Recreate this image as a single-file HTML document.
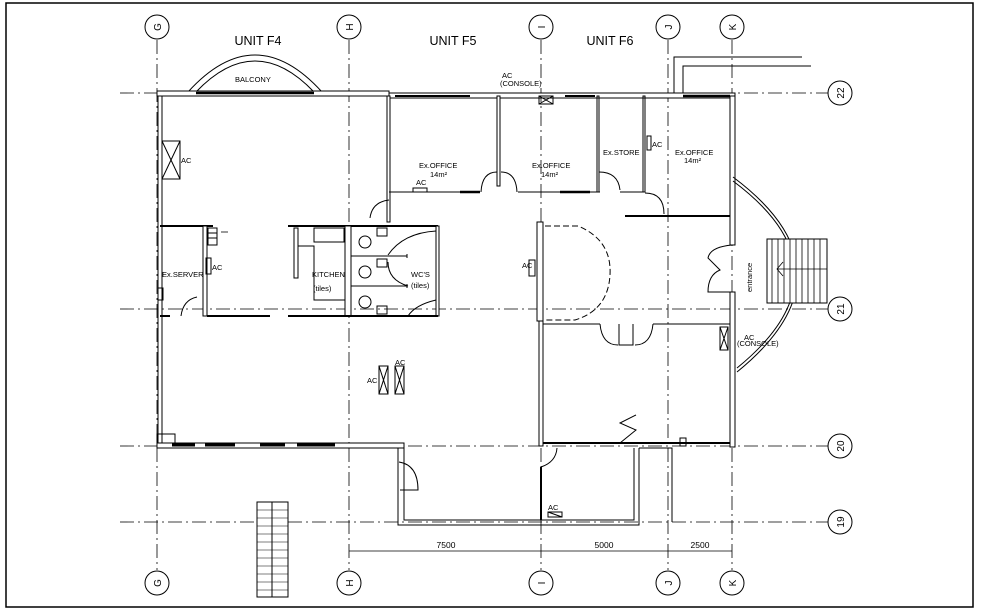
<!DOCTYPE html>
<html><head><meta charset="utf-8"><style>
html,body{margin:0;padding:0;background:#fff;}
svg{display:block;}
text{font-family:"Liberation Sans",sans-serif;fill:#000;}
</style></head><body>
<svg width="986" height="611" viewBox="0 0 986 611" xmlns="http://www.w3.org/2000/svg">
<rect x="0" y="0" width="986" height="611" fill="#fff"/>
<rect x="6" y="3" width="967" height="604" fill="none" stroke="#000" stroke-width="1.5"/>

<!-- grid lines -->
<g stroke="#000" stroke-width="0.8" stroke-dasharray="14,4,2,4" fill="none">
<line x1="157" y1="40" x2="157" y2="570"/>
<line x1="349" y1="40" x2="349" y2="570"/>
<line x1="541" y1="40" x2="541" y2="570"/>
<line x1="668" y1="40" x2="668" y2="570"/>
<line x1="732" y1="40" x2="732" y2="570"/>
<line x1="120" y1="93" x2="828" y2="93"/>
<line x1="120" y1="309" x2="828" y2="309"/>
<line x1="120" y1="446" x2="828" y2="446"/>
<line x1="120" y1="522" x2="828" y2="522"/>
</g>
<!-- bubbles -->
<g stroke="#000" stroke-width="1" fill="#fff">
<circle cx="157" cy="27" r="12"/><circle cx="349" cy="27" r="12"/><circle cx="541" cy="27" r="12"/><circle cx="668" cy="27" r="12"/><circle cx="732" cy="27" r="12"/>
<circle cx="157" cy="583" r="12"/><circle cx="349" cy="583" r="12"/><circle cx="541" cy="583" r="12"/><circle cx="668" cy="583" r="12"/><circle cx="732" cy="583" r="12"/>
<circle cx="840" cy="93" r="12"/><circle cx="840" cy="309" r="12"/><circle cx="840" cy="446" r="12"/><circle cx="840" cy="522" r="12"/>
</g>
<g font-size="10" text-anchor="middle">
<text transform="translate(157,27) rotate(-90)" y="4">G</text><text transform="translate(349,27) rotate(-90)" y="4">H</text><text transform="translate(541,27) rotate(-90)" y="4">I</text><text transform="translate(668,27) rotate(-90)" y="4">J</text><text transform="translate(732,27) rotate(-90)" y="4">K</text>
<text transform="translate(157,583) rotate(-90)" y="4">G</text><text transform="translate(349,583) rotate(-90)" y="4">H</text><text transform="translate(541,583) rotate(-90)" y="4">I</text><text transform="translate(668,583) rotate(-90)" y="4">J</text><text transform="translate(732,583) rotate(-90)" y="4">K</text>
<text transform="translate(840,93) rotate(-90)" y="4">22</text><text transform="translate(840,309) rotate(-90)" y="4">21</text><text transform="translate(840,446) rotate(-90)" y="4">20</text><text transform="translate(840,522) rotate(-90)" y="4">19</text>
</g>

<g font-size="12.5" text-anchor="middle">
<text x="258" y="45">UNIT  F4</text>
<text x="453" y="45">UNIT  F5</text>
<text x="610" y="45">UNIT  F6</text>
</g>

<g fill="none" stroke="#000" stroke-width="1">
<!-- top right lines -->
<polyline points="802,57 674,57 674,93"/>
<polyline points="811,66 683,66 683,93"/>
<!-- balcony -->
<path d="M188,92 Q255,18 322,92"/>
<path d="M196,92 Q255,30 314,92"/>
<!-- north wall -->
<rect x="157" y="91" width="232" height="5" fill="#fff"/>
<rect x="389" y="93" width="346" height="5" fill="#fff"/>
<line x1="196" y1="93" x2="314" y2="93" stroke-width="2.5"/>
<line x1="395" y1="96" x2="470" y2="96" stroke-width="2"/>
<line x1="565" y1="96" x2="595" y2="96" stroke-width="2"/>
<line x1="683" y1="96" x2="730" y2="96" stroke-width="2.5"/>
<!-- west wall -->
<rect x="158" y="96" width="4" height="350" fill="#fff"/>
<!-- bottom wall F4 -->
<rect x="157" y="443" width="247" height="5" fill="#fff"/>
<line x1="172" y1="445" x2="195" y2="445" stroke-width="3"/>
<line x1="205" y1="445" x2="235" y2="445" stroke-width="3"/>
<line x1="260" y1="445" x2="285" y2="445" stroke-width="3"/>
<line x1="297" y1="445" x2="335" y2="445" stroke-width="3"/>
<rect x="157" y="434" width="18" height="9"/>
<!-- south box -->
<polyline points="404,448 404,520 634,520 634,448"/>
<polyline points="398,448 398,525 639,525 639,448"/>
<path d="M399,462 Q418,465 418,490 L400,490"/>
<polyline points="639,448 672,448 672,522"/>
<line x1="541" y1="467" x2="541" y2="520" stroke-width="2"/>
<path d="M541,467 Q556,462 557,448"/>
<rect x="548" y="512" width="14" height="5"/>
<line x1="548" y1="512" x2="562" y2="517"/>
<!-- F5/F6 offices -->
<rect x="387" y="96" width="3" height="126" fill="#fff"/>
<polyline points="389,192 480,192"/>
<polyline points="518,192 600,192"/>
<line x1="460" y1="192" x2="480" y2="192" stroke-width="2.5"/>
<line x1="560" y1="192" x2="590" y2="192" stroke-width="2.5"/>
<path d="M481,192 Q482,172 497,172"/><path d="M517,192 Q516,172 501,172"/>
<rect x="497" y="96" width="3" height="90" fill="#fff"/>
<rect x="597" y="96" width="2" height="96"/>
<rect x="643" y="96" width="2" height="96"/>
<polyline points="620,192 643,192"/>
<path d="M599,172 Q618,172 620,190"/>
<path d="M645,193 Q664,193 664,214"/>
<line x1="625" y1="216" x2="732" y2="216" stroke-width="2"/>
<path d="M389,200 Q372,202 370,218"/>
<rect x="647" y="136" width="4" height="14"/>
<rect x="413" y="188" width="14" height="4"/>
<rect x="539" y="96" width="14" height="8"/>
<line x1="539" y1="96" x2="553" y2="104"/><line x1="553" y1="96" x2="539" y2="104"/>
<!-- east wall -->
<rect x="730" y="96" width="5" height="149" fill="#fff"/>
<rect x="730" y="292" width="5" height="155" fill="#fff"/>
<path d="M732,245 Q710,247 708,258 L720,270 Q708,275 708,292 L732,292" />
<!-- entrance arc -->
<path d="M733,177 Q860,272 737,372"/>
<path d="M733,181 Q855,272 737,368"/>
<!-- stairs -->
<rect x="767" y="239" width="60" height="64" fill="#fff"/>
<g stroke-width="0.8"><line x1="772" y1="239" x2="772" y2="303"/><line x1="778" y1="239" x2="778" y2="303"/><line x1="784" y1="239" x2="784" y2="303"/><line x1="790" y1="239" x2="790" y2="303"/><line x1="796" y1="239" x2="796" y2="303"/><line x1="802" y1="239" x2="802" y2="303"/><line x1="808" y1="239" x2="808" y2="303"/><line x1="814" y1="239" x2="814" y2="303"/><line x1="820" y1="239" x2="820" y2="303"/>
<line x1="777" y1="269" x2="827" y2="269"/><polyline points="783,262 777,269 783,276"/></g>
<!-- I column block -->
<rect x="537" y="222" width="6" height="99" fill="#fff"/>
<path d="M545,226 L578,226 Q612,240 610,275 Q608,310 575,320 L545,320" stroke-dasharray="6,3"/>
<rect x="529" y="260" width="6" height="16"/>
<!-- right lower block -->
<rect x="539" y="321" width="4" height="125" fill="#fff"/>
<line x1="543" y1="324" x2="600" y2="324"/>
<line x1="653" y1="324" x2="730" y2="324"/>
<path d="M600,324 Q602,345 618,345"/><path d="M653,324 Q651,345 635,345"/>
<polyline points="619,324 619,345 633,345 633,324"/>
<polyline points="620,443 636,430 620,423 636,415"/>
<line x1="543" y1="443" x2="730" y2="443" stroke-width="2"/>
<rect x="680" y="438" width="6" height="8"/>
<rect x="720" y="327" width="8" height="23"/>
<line x1="720" y1="327" x2="728" y2="350"/><line x1="728" y1="327" x2="720" y2="350"/>
<!-- kitchen / WC block -->
<line x1="288" y1="226" x2="438" y2="226" stroke-width="2"/>
<rect x="345" y="226" width="6" height="90" fill="#fff"/>
<rect x="436" y="226" width="3" height="90" fill="#fff"/>
<line x1="288" y1="316" x2="438" y2="316" stroke-width="2"/>
<rect x="294" y="228" width="4" height="50"/>
<polyline points="298,246 314,246 314,300 345,300"/>
<rect x="314" y="228" width="30" height="14"/>
<line x1="351" y1="256" x2="407" y2="256"/><line x1="351" y1="286" x2="407" y2="286"/>
<line x1="407" y1="254" x2="407" y2="258"/><line x1="407" y1="284" x2="407" y2="288"/>
<ellipse cx="365" cy="242" rx="6" ry="6"/><ellipse cx="365" cy="272" rx="6" ry="6"/><ellipse cx="365" cy="302" rx="6" ry="6"/>
<rect x="377" y="228" width="10" height="8"/><rect x="377" y="259" width="10" height="8"/><rect x="377" y="306" width="10" height="8"/>
<path d="M436,231 Q403,233 388,255"/><path d="M388,262 Q388,280 408,286"/><path d="M436,300 Q415,305 408,316"/>
<!-- server room -->
<line x1="160" y1="226" x2="213" y2="226" stroke-width="2"/>
<rect x="203" y="226" width="4" height="90" fill="#fff"/>
<rect x="208" y="228" width="9" height="17"/>
<line x1="208" y1="233" x2="217" y2="233"/><line x1="208" y1="238" x2="217" y2="238"/>
<line x1="207" y1="316" x2="270" y2="316" stroke-width="2"/>
<line x1="160" y1="316" x2="170" y2="316" stroke-width="2"/>
<path d="M181,316 Q183,300 197,297"/>
<rect x="158" y="288" width="5" height="12"/>
<rect x="206" y="258" width="5" height="16"/>
<line x1="221" y1="232" x2="228" y2="232" stroke-width="0.8"/>
<!-- AC units -->
<rect x="162" y="141" width="18" height="38"/>
<line x1="162" y1="141" x2="180" y2="179"/><line x1="180" y1="141" x2="162" y2="179"/>
<rect x="379" y="366" width="9" height="28"/><line x1="379" y1="366" x2="388" y2="394"/><line x1="388" y1="366" x2="379" y2="394"/>
<rect x="395" y="366" width="9" height="28"/><line x1="395" y1="366" x2="404" y2="394"/><line x1="404" y1="366" x2="395" y2="394"/>
<!-- dimension -->
<line x1="349" y1="551" x2="732" y2="551" stroke-width="0.8"/>
<!-- left stair -->
<rect x="257" y="502" width="31" height="95" fill="#fff"/>
<line x1="272" y1="502" x2="272" y2="597"/>
</g>
<g stroke="#000" stroke-width="0.6">
<line x1="257" y1="510" x2="288" y2="510"/><line x1="257" y1="518" x2="288" y2="518"/><line x1="257" y1="526" x2="288" y2="526"/><line x1="257" y1="534" x2="288" y2="534"/><line x1="257" y1="542" x2="288" y2="542"/><line x1="257" y1="550" x2="288" y2="550"/><line x1="257" y1="558" x2="288" y2="558"/><line x1="257" y1="566" x2="288" y2="566"/><line x1="257" y1="574" x2="288" y2="574"/><line x1="257" y1="582" x2="288" y2="582"/><line x1="257" y1="590" x2="288" y2="590"/>
</g>

<g font-size="7.5">
<text x="235" y="82">BALCONY</text>
<text x="181" y="163">AC</text>
<text x="502" y="78">AC</text><text x="500" y="86">(CONSOLE)</text>
<text x="419" y="168">Ex.OFFICE</text><text x="430" y="177">14m²</text>
<text x="416" y="185">AC</text>
<text x="532" y="168">Ex.OFFICE</text><text x="541" y="177">14m²</text>
<text x="603" y="155">Ex.STORE</text><text x="652" y="147">AC</text>
<text x="675" y="155">Ex.OFFICE</text><text x="684" y="163">14m²</text>
<text x="162" y="277">Ex.SERVER</text><text x="212" y="270">AC</text>
<text x="312" y="277">KITCHEN</text><text x="313" y="291">(tiles)</text>
<text x="411" y="277">WC'S</text><text x="411" y="288">(tiles)</text>
<text x="522" y="268">AC</text>
<text x="744" y="340">AC</text><text x="737" y="346">(CONSOLE)</text>
<text x="367" y="383">AC</text><text x="395" y="365">AC</text>
<text x="548" y="510">AC</text>
<text transform="translate(752,292) rotate(-90)">entrance</text>
</g>
<g font-size="8.5" text-anchor="middle">
<text x="446" y="548">7500</text><text x="604" y="548">5000</text><text x="700" y="548">2500</text>
</g>
</svg>
</body></html>
